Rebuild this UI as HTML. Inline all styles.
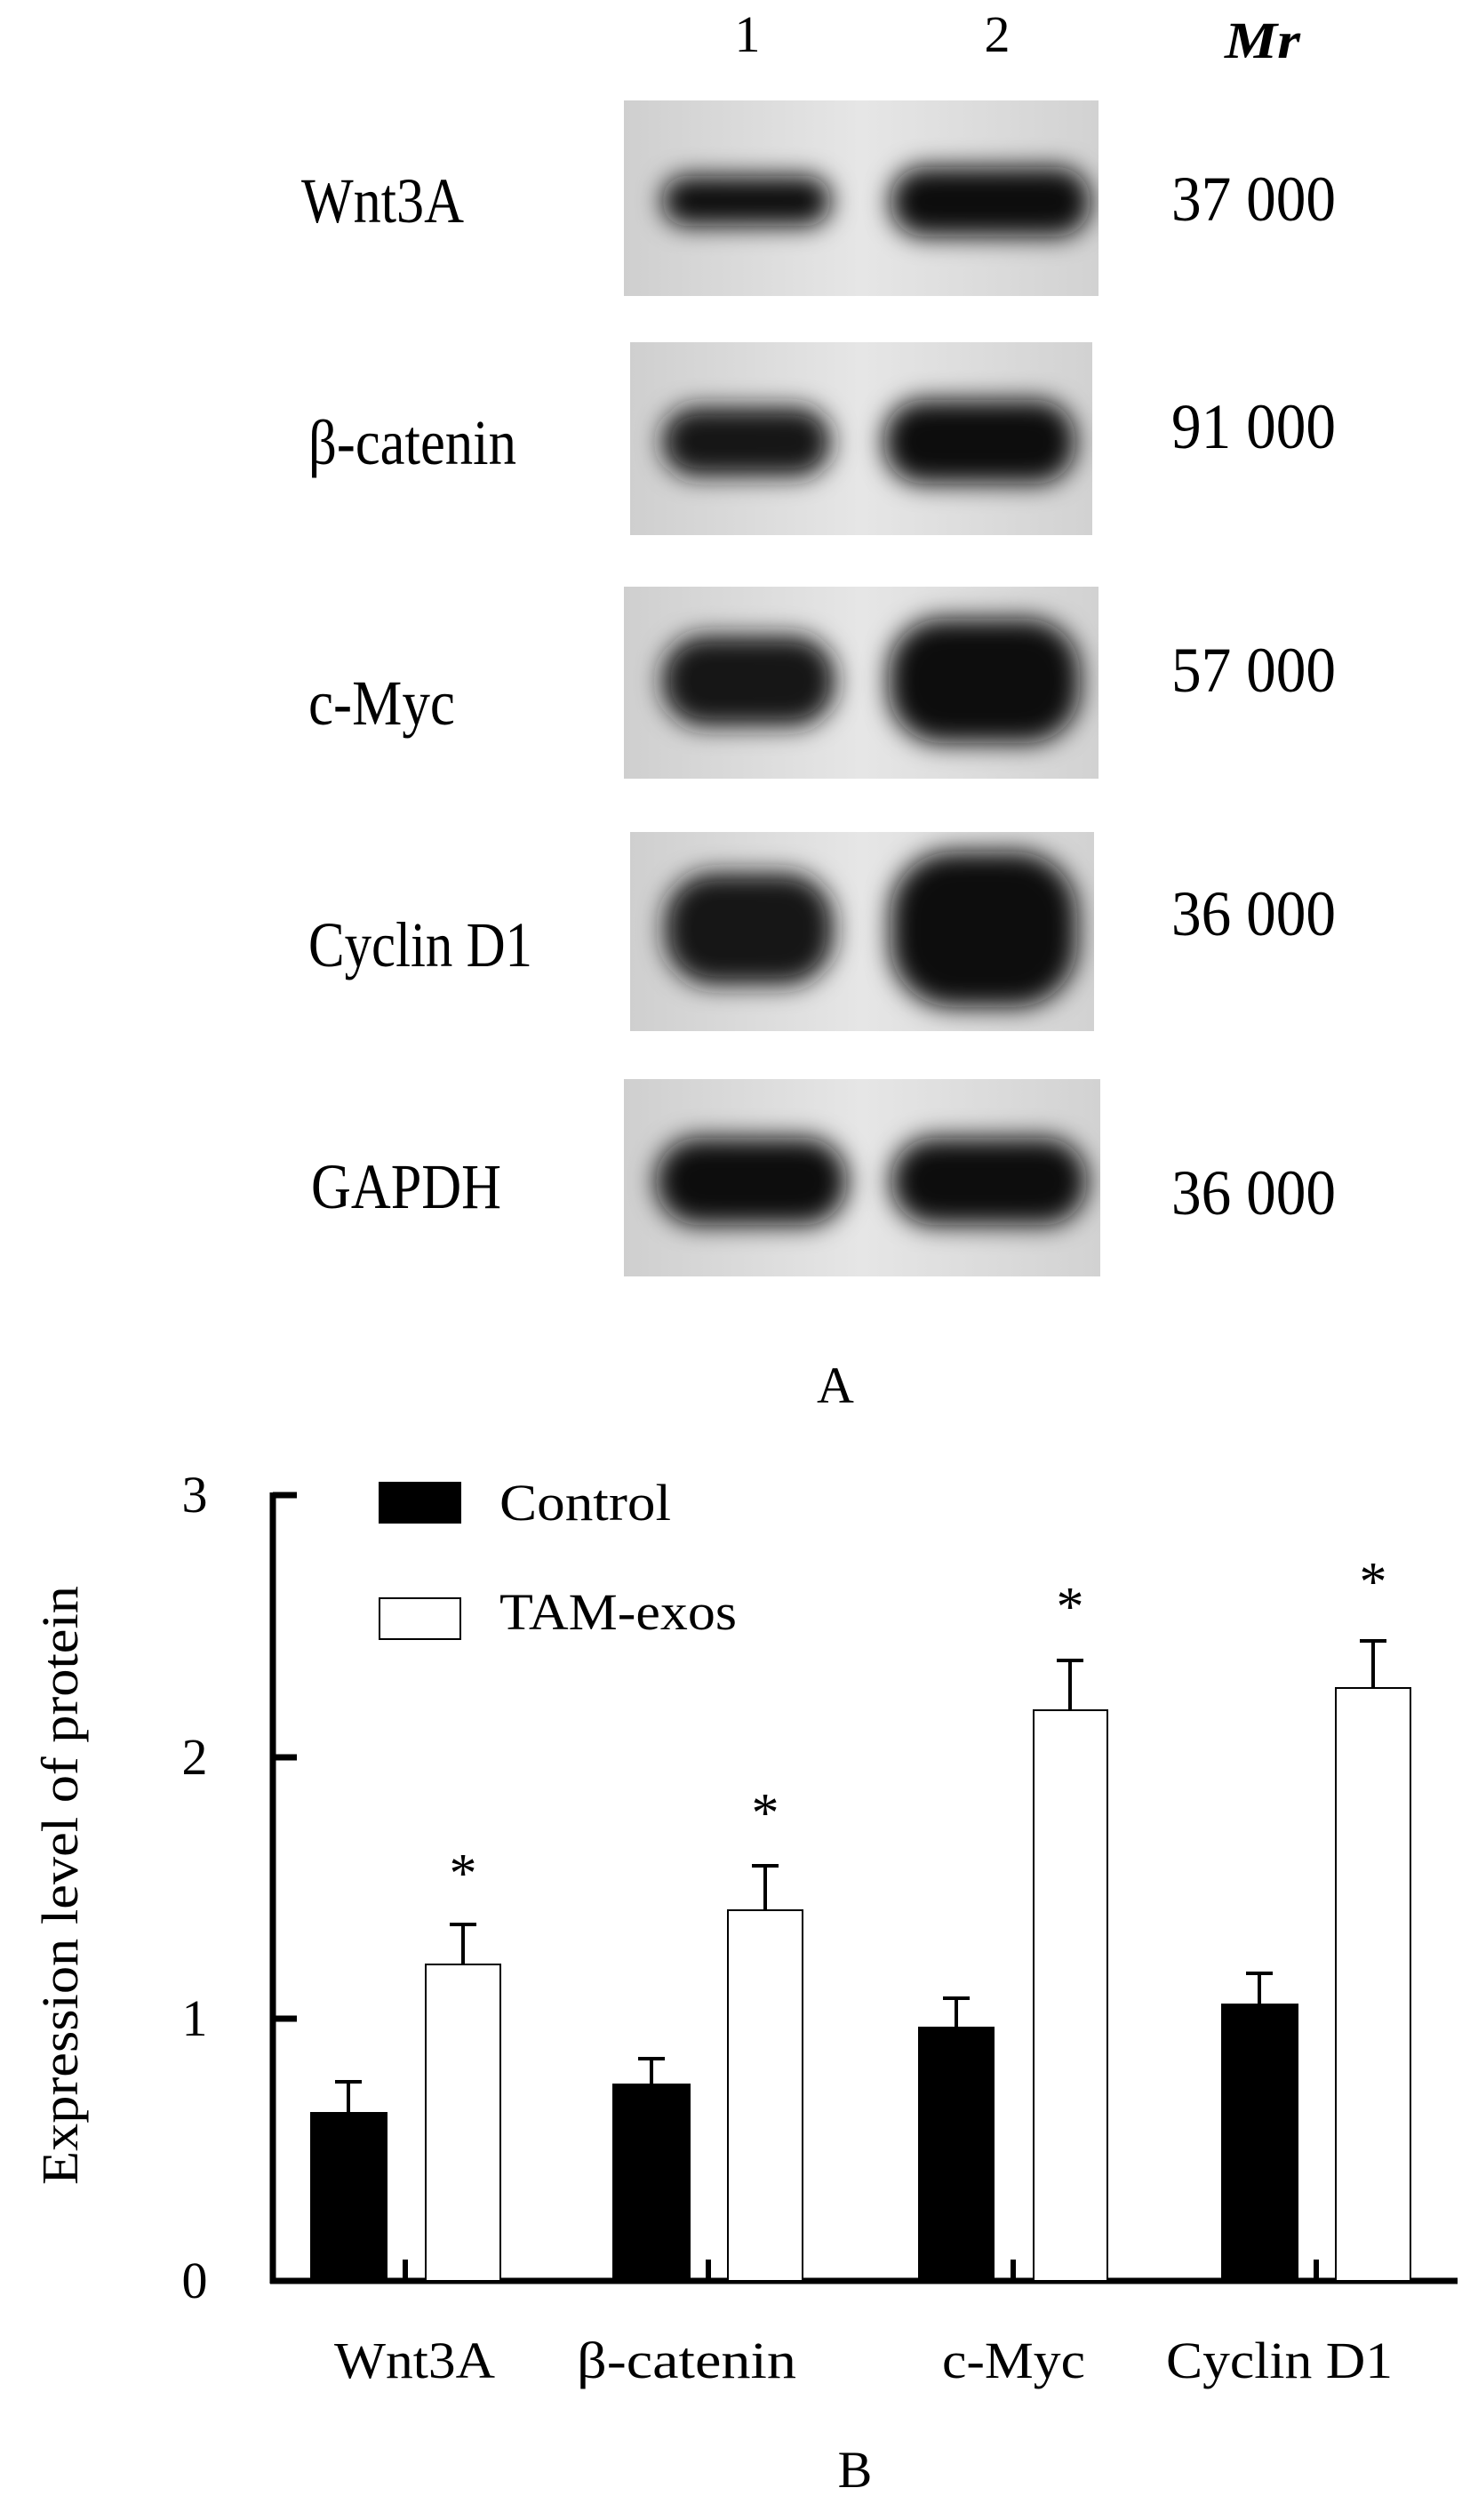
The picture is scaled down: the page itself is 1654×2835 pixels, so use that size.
<!DOCTYPE html>
<html><head><meta charset="utf-8"><style>html,body{margin:0;padding:0;background:#fff}svg{display:block}text{font-family:"Liberation Serif",serif;fill:#000}</style></head><body>
<svg width="1654" height="2835" viewBox="0 0 1654 2835" xmlns="http://www.w3.org/2000/svg">
<defs>
<filter id="b" x="-30%" y="-60%" width="160%" height="220%"><feGaussianBlur stdDeviation="14"/></filter>
<linearGradient id="bg" x1="0" x2="1" y1="0" y2="0">
<stop offset="0" stop-color="#cfcfcf"/><stop offset="0.5" stop-color="#e6e6e6"/><stop offset="1" stop-color="#d2d2d2"/></linearGradient>
<clipPath id="c1"><rect x="702" y="113" width="534" height="220"/></clipPath>
<clipPath id="c2"><rect x="709" y="385" width="520" height="217"/></clipPath>
<clipPath id="c3"><rect x="702" y="660" width="534" height="216"/></clipPath>
<clipPath id="c4"><rect x="709" y="936" width="522" height="224"/></clipPath>
<clipPath id="c5"><rect x="702" y="1214" width="536" height="222"/></clipPath>
</defs>
<text x="841" y="58" font-size="58" text-anchor="middle">1</text>
<text x="1122" y="58" font-size="58" text-anchor="middle">2</text>
<text x="1378" y="65" font-size="58" font-style="italic" font-weight="bold" textLength="85" lengthAdjust="spacingAndGlyphs">Mr</text>
<rect x="702" y="113" width="534" height="220" fill="url(#bg)"/>
<g clip-path="url(#c1)">
<rect x="745" y="198" width="190" height="56" rx="28" fill="#111" filter="url(#b)"/>
<rect x="1002" y="188" width="225" height="78" rx="38" fill="#0c0c0c" filter="url(#b)"/>
</g>
<rect x="709" y="385" width="520" height="217" fill="url(#bg)"/>
<g clip-path="url(#c2)">
<rect x="745" y="458" width="190" height="78" rx="38" fill="#151515" filter="url(#b)"/>
<rect x="995" y="450" width="215" height="94" rx="44" fill="#0e0e0e" filter="url(#b)"/>
</g>
<rect x="702" y="660" width="534" height="216" fill="url(#bg)"/>
<g clip-path="url(#c3)">
<rect x="745" y="715" width="195" height="102" rx="48" fill="#141414" filter="url(#b)"/>
<rect x="1000" y="696" width="215" height="140" rx="60" fill="#0a0a0a" filter="url(#b)"/>
</g>
<rect x="709" y="936" width="522" height="224" fill="url(#bg)"/>
<g clip-path="url(#c4)">
<rect x="748" y="982" width="190" height="126" rx="55" fill="#121212" filter="url(#b)"/>
<rect x="1002" y="958" width="210" height="175" rx="70" fill="#080808" filter="url(#b)"/>
</g>
<rect x="702" y="1214" width="536" height="222" fill="url(#bg)"/>
<g clip-path="url(#c5)">
<rect x="738" y="1280" width="215" height="98" rx="48" fill="#0e0e0e" filter="url(#b)"/>
<rect x="1003" y="1280" width="220" height="98" rx="48" fill="#0e0e0e" filter="url(#b)"/>
</g>
<g font-size="72">
<text x="339" y="250" textLength="183" lengthAdjust="spacingAndGlyphs">Wnt3A</text>
<text x="347" y="522" textLength="234" lengthAdjust="spacingAndGlyphs">β-catenin</text>
<text x="347" y="815" textLength="165" lengthAdjust="spacingAndGlyphs">c-Myc</text>
<text x="347" y="1087" textLength="252" lengthAdjust="spacingAndGlyphs">Cyclin D1</text>
<text x="350" y="1359" textLength="214" lengthAdjust="spacingAndGlyphs">GAPDH</text>
<text x="1318" y="248" textLength="185" lengthAdjust="spacingAndGlyphs">37  000</text>
<text x="1318" y="504" textLength="185" lengthAdjust="spacingAndGlyphs">91  000</text>
<text x="1318" y="778" textLength="185" lengthAdjust="spacingAndGlyphs">57  000</text>
<text x="1318" y="1052" textLength="185" lengthAdjust="spacingAndGlyphs">36  000</text>
<text x="1318" y="1366" textLength="185" lengthAdjust="spacingAndGlyphs">36  000</text>
</g>
<text x="940" y="1578" font-size="58" text-anchor="middle">A</text>
<g transform="translate(0,-12)">
<g stroke="#000" fill="none">
<line x1="307" y1="1691" x2="307" y2="2581" stroke-width="7"/>
<line x1="304" y1="2578" x2="1640" y2="2578" stroke-width="7"/>
<line x1="307" y1="1694" x2="334" y2="1694" stroke-width="7"/>
<line x1="307" y1="1989" x2="334" y2="1989" stroke-width="7"/>
<line x1="307" y1="2283" x2="334" y2="2283" stroke-width="7"/>
<g stroke-width="6">
<line x1="456" y1="2554" x2="456" y2="2578"/><line x1="797" y1="2554" x2="797" y2="2578"/>
<line x1="1140" y1="2554" x2="1140" y2="2578"/><line x1="1481" y1="2554" x2="1481" y2="2578"/>
</g>
</g>
<g font-size="58" text-anchor="middle">
<text x="219" y="1713">3</text><text x="219" y="2008">2</text><text x="219" y="2302">1</text><text x="219" y="2597">0</text>
</g>
<g stroke="#000" stroke-width="2">
<rect x="350" y="2389" width="85" height="189" fill="#000"/>
<rect x="479" y="2222" width="84" height="356" fill="#fff"/>
<rect x="690" y="2357" width="86" height="221" fill="#000"/>
<rect x="819" y="2161" width="84" height="417" fill="#fff"/>
<rect x="1034" y="2293" width="84" height="285" fill="#000"/>
<rect x="1163" y="1936" width="83" height="642" fill="#fff"/>
<rect x="1375" y="2267" width="85" height="311" fill="#000"/>
<rect x="1503" y="1911" width="84" height="667" fill="#fff"/>
</g>
<g stroke="#000" stroke-width="4" fill="none">
<path d="M392 2389V2354M377 2354H407"/>
<path d="M521 2222V2177M506 2177H536"/>
<path d="M733 2357V2328M718 2328H748"/>
<path d="M861 2161V2111M846 2111H876"/>
<path d="M1076 2293V2260M1061 2260H1091"/>
<path d="M1204 1936V1880M1189 1880H1219"/>
<path d="M1417 2267V2232M1402 2232H1432"/>
<path d="M1545 1911V1858M1530 1858H1560"/>
</g>
<g font-size="62" text-anchor="middle">
<text x="521" y="2140">*</text><text x="861" y="2072">*</text><text x="1204" y="1840">*</text><text x="1545" y="1812">*</text>
</g>
<rect x="426" y="1679" width="93" height="47" fill="#000"/>
<rect x="427" y="1810" width="91" height="46" fill="#fff" stroke="#000" stroke-width="2"/>
<g font-size="58">
<text x="562" y="1722" textLength="193" lengthAdjust="spacingAndGlyphs">Control</text>
<text x="562" y="1845" textLength="267" lengthAdjust="spacingAndGlyphs">TAM-exos</text>
</g>
<text transform="translate(87,2133) rotate(-90)" font-size="58" text-anchor="middle" textLength="674" lengthAdjust="spacingAndGlyphs">Expression level of protein</text>
<g font-size="58">
<text x="376" y="2687" textLength="181" lengthAdjust="spacingAndGlyphs">Wnt3A</text>
<text x="649" y="2687" textLength="247" lengthAdjust="spacingAndGlyphs">β-catenin</text>
<text x="1060" y="2687" textLength="161" lengthAdjust="spacingAndGlyphs">c-Myc</text>
<text x="1312" y="2687" textLength="255" lengthAdjust="spacingAndGlyphs">Cyclin D1</text>
</g>
<text x="962" y="2810" font-size="58" text-anchor="middle">B</text>
</g>
</svg>
</body></html>
